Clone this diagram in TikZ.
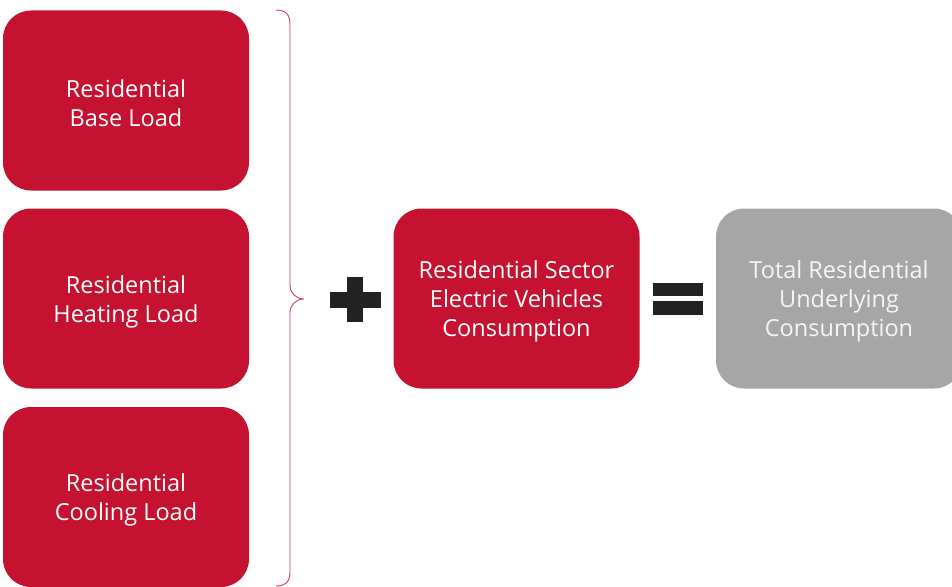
\documentclass[tikz,border=0pt]{standalone}
\usepackage{fontspec}
\setmainfont{Open Sans}
\definecolor{boxred}{HTML}{C41230}
\definecolor{boxgray}{HTML}{A6A6A6}
\definecolor{symdark}{HTML}{222222}
\definecolor{bracered}{HTML}{D23A55}
\begin{document}
\begin{tikzpicture}[x=1pt,y=-1pt,
  boxbase/.style={rectangle,rounded corners=28pt,minimum width=246pt,minimum height=180pt,
    inner sep=0pt},
  redbox/.style={boxbase,fill=boxred},
  graybox/.style={boxbase,fill=boxgray},
  boxtext/.style={inner sep=0pt,align=center,text=white,
    font=\fontsize{23.5}{29}\selectfont},
  graytext/.style={boxtext,text=white!96!black},
  symbol/.style={fill=symdark,draw=none}]
\useasboundingbox (0,0) rectangle (952,586);
\clip (0,0) rectangle (952,586);
\node[redbox] (base) at (126,100.5) {};
\node[redbox] (heat) at (126,298.5) {};
\node[redbox] (cool) at (126,497) {};
\node[redbox] (ev) at (516.5,298.5) {};
\node[graybox] (total) at (839,298.5) {};
\node[boxtext] (basetext) at ([yshift=-3pt]base.center) {Residential\\Base Load};
\node[boxtext] (heattext) at ([yshift=-3pt]heat.center) {Residential\\Heating Load};
\node[boxtext] (cooltext) at ([yshift=-3pt]cool.center) {Residential\\Cooling Load};
\node[boxtext] (evtext) at ([yshift=-3pt]ev.center) {Residential Sector\\Electric Vehicles\\Consumption};
\node[graytext] (totaltext) at ([yshift=-3pt]total.center) {Total Residential\\Underlying\\Consumption};
% brace
\draw[bracered,line width=0.9pt]
  (276,10) .. controls (286,10) and (290,15) .. (290,24)
  -- (290,285) .. controls (290,293) and (296,299) .. (304,299)
  .. controls (296,299) and (290,305) .. (290,313)
  -- (290,572) .. controls (290,581) and (286,586) .. (276,586);
% plus
\coordinate (plus) at (355,299.5);
\fill[symbol] ([xshift=-25.5pt,yshift=-8pt]plus) rectangle ([xshift=25.5pt,yshift=8pt]plus);
\fill[symbol] ([xshift=-8pt,yshift=-22.5pt]plus) rectangle ([xshift=8pt,yshift=22.5pt]plus);
% equals
\coordinate (eq) at (678,299);
\fill[symbol] ([xshift=-25pt,yshift=-16pt]eq) rectangle ([xshift=25pt,yshift=-2pt]eq);
\fill[symbol] ([xshift=-25pt,yshift=3pt]eq) rectangle ([xshift=25pt,yshift=16pt]eq);
\end{tikzpicture}
\end{document}
